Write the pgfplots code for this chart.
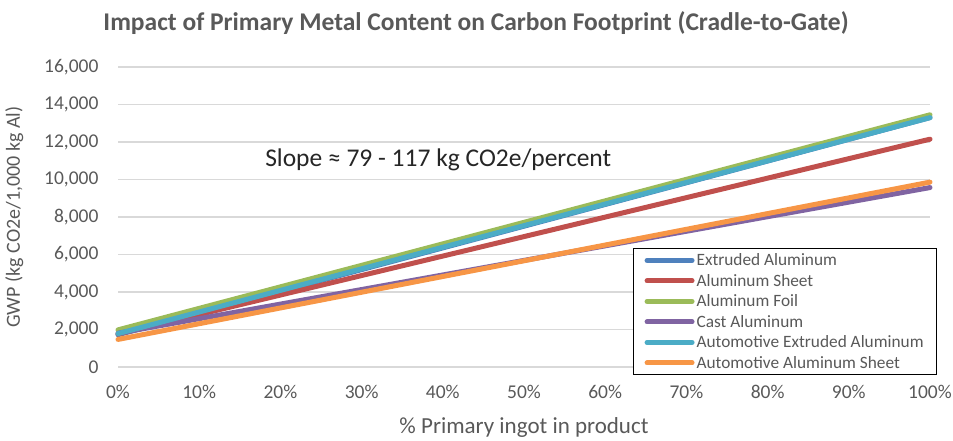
\documentclass[border=0pt]{standalone}
\usepackage{pgfplots}
\pgfplotsset{compat=1.18}
\usepackage{fontspec}
\setmainfont{Carlito}
\definecolor{txt}{HTML}{595959}
\definecolor{cBlue}{HTML}{4F81BD}
\definecolor{cRed}{HTML}{C0504D}
\definecolor{cGreen}{HTML}{9BBB59}
\definecolor{cPurple}{HTML}{8064A2}
\definecolor{cCyan}{HTML}{4BACC6}
\definecolor{cOrange}{HTML}{F79646}
\begin{document}
\begin{tikzpicture}[x=1pt,y=1pt]
\path[use as bounding box] (0,0) rectangle (953,441);
\node[font=\fontsize{25.5}{30}\selectfont\bfseries, text=txt] at (476,418) {Impact of Primary Metal Content on Carbon Footprint (Cradle-to-Gate)};
\begin{axis}[
  at={(118pt,74pt)}, anchor=south west,
  scale only axis, width=812pt, height=300pt,
  xmin=0, xmax=100, ymin=0, ymax=16000,
  xtick={0,10,...,100}, ytick={0,2000,...,16000},
  xticklabel={\pgfmathprintnumber{\tick}\%},
  scaled y ticks=false,
  /pgf/number format/assume math mode=true,
  /pgf/number format/1000 sep={,},
  ymajorgrids, grid style={draw=black!15, line width=1.2pt},
  axis line style={draw=none},
  major tick length=0pt,
  tick label style={font=\fontsize{19.5}{22}\selectfont, text=txt},
  xticklabel style={yshift=-15pt},
  yticklabel style={xshift=-16pt},
  xlabel={\% Primary ingot in product},
  ylabel={GWP (kg CO2e/1,000 kg Al)},
  label style={text=txt},
  xlabel style={font=\fontsize{23}{27}\selectfont, yshift=-12pt},
  ylabel style={font=\fontsize{20}{24}\selectfont, yshift=14pt},
  clip=false,
  every axis plot/.append style={line width=5pt, line cap=round},
  legend style={at={(0.634,0.397)}, anchor=north west, draw=black, line width=1.5pt,
    font=\fontsize{17.3}{20}\selectfont, text=txt, row sep=3pt, inner xsep=11pt, inner ysep=3pt},
  legend cell align=left,
  legend image code/.code={\draw[#1, line width=5pt, line cap=round] (0pt,0pt) -- (45pt,0pt);},
]
\addplot[cBlue] coordinates {(0,1720) (100,13300)};
\addlegendentry{Extruded Aluminum}
\addplot[cRed] coordinates {(0,1760) (100,12150)};
\addlegendentry{Aluminum Sheet}
\addplot[cGreen] coordinates {(0,1980) (100,13450)};
\addlegendentry{Aluminum Foil}
\addplot[cPurple] coordinates {(0,1800) (100,9570)};
\addlegendentry{Cast Aluminum}
\addplot[cCyan] coordinates {(0,1780) (100,13300)};
\addlegendentry{Automotive Extruded Aluminum}
\addplot[cOrange] coordinates {(0,1470) (100,9860)};
\addlegendentry{Automotive Aluminum Sheet}
\node[anchor=west, font=\fontsize{25.5}{30}\selectfont, text=black!85] at (axis cs:17.7,11040) {Slope ≈ 79 - 117 kg CO2e/percent};
\end{axis}
\end{tikzpicture}
\end{document}
